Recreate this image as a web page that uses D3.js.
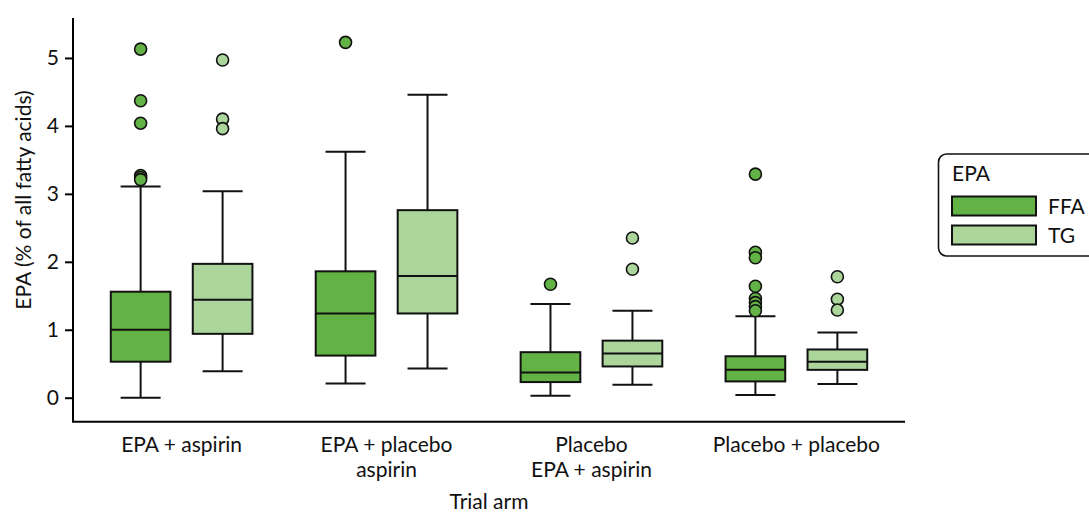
<!DOCTYPE html>
<html><head><meta charset="utf-8">
<script src="https://cdn.jsdelivr.net/npm/d3@7"></script>
<style>body{margin:0;background:#fff}svg{display:block;font-family:Lato,"Open Sans",sans-serif}</style>
</head><body><svg id="c" width="1089" height="513"></svg>
<script>
const categories = ["EPA + aspirin", "EPA + placebo aspirin", "Placebo EPA + aspirin", "Placebo + placebo"];
const categoryLines = [["EPA + aspirin"], ["EPA + placebo", "aspirin"], ["Placebo", "EPA + aspirin"], ["Placebo + placebo"]];
const seriesNames = ["FFA", "TG"];
const seriesColors = ["#63b246", "#acd59c"];
// [lowerWhisker, Q1, median, Q3, upperWhisker]
const ffaStats = [
  [0.00, 0.53, 1.00, 1.56, 3.11],
  [0.21, 0.62, 1.24, 1.86, 3.62],
  [0.03, 0.23, 0.37, 0.67, 1.38],
  [0.04, 0.24, 0.41, 0.61, 1.20]
];
const tgStats = [
  [0.39, 0.94, 1.44, 1.97, 3.04],
  [0.43, 1.24, 1.79, 2.76, 4.46],
  [0.19, 0.46, 0.65, 0.84, 1.28],
  [0.20, 0.41, 0.53, 0.71, 0.96]
];
const ffaOutliers = [
  [5.13, 4.37, 4.04, 3.27, 3.24, 3.21],
  [5.23],
  [1.67],
  [3.29, 2.14, 2.06, 1.64, 1.46, 1.40, 1.34, 1.28]
];
const tgOutliers = [
  [4.97, 4.10, 3.96],
  [],
  [2.35, 1.89],
  [1.78, 1.45, 1.29]
];
const yTicks = [0, 1, 2, 3, 4, 5];
const yDomain = [-0.353, 5.588];
const yTitle = "EPA (% of all fatty acids)";
const xTitle = "Trial arm";
const legendTitle = "EPA";

(function () {
const svg = d3.select("#c");
const mLeft = 73, mRight = 905, mTop = 18, mBottom = 421.7;
const fs = 21;
const x = d3.scaleBand().domain(categories).range([mLeft, mRight]).paddingInner(0).paddingOuter(0.03);
const xs = d3.scaleBand().domain(seriesNames).range([0, x.bandwidth()]).paddingInner(0.272).paddingOuter(0.386);
const y = d3.scaleLinear().domain(yDomain).range([mBottom, mTop]);
const color = d3.scaleOrdinal().domain(seriesNames).range(seriesColors);

// axes
const yAxis = svg.append("g").attr("transform", `translate(${mLeft},0)`)
  .call(d3.axisLeft(y).tickValues(yTicks).tickSize(8).tickPadding(6).tickFormat(d3.format("d")));
yAxis.select(".domain").attr("d", `M0,${mTop}V${mBottom}`).attr("stroke-width", 2);
yAxis.selectAll(".tick line").attr("stroke-width", 2);
yAxis.selectAll("text").attr("font-size", fs).attr("fill", "#111").attr("font-family", null);

const xAxis = svg.append("g").attr("transform", `translate(0,${mBottom})`)
  .call(d3.axisBottom(x).tickSize(0).tickFormat(""));
xAxis.attr("font-family", null);
xAxis.select(".domain").attr("d", `M${mLeft-1},0H${mRight}`).attr("stroke-width", 2);
xAxis.selectAll(".tick").each(function(d, i) {
  const t = d3.select(this).append("text").attr("fill", "#111").attr("font-size", fs).attr("text-anchor", "middle");
  categoryLines[i].forEach((ln, j) => t.append("tspan").attr("x", 0).attr("y", 30 + j * 25).text(ln));
});
yAxis.attr("font-family", null);

svg.append("text").attr("transform", `translate(31,200) rotate(-90)`)
  .attr("text-anchor", "middle").attr("font-size", fs).attr("fill", "#111").text(yTitle);
svg.append("text").attr("x", (mLeft + mRight) / 2).attr("y", 509).attr("text-anchor", "middle")
  .attr("font-size", fs).attr("fill", "#111").text(xTitle);

// boxes
const allSeries = [
  {name: "FFA", stats: ffaStats, outliers: ffaOutliers},
  {name: "TG", stats: tgStats, outliers: tgOutliers}
];
const bw = xs.bandwidth();
const capHalf = 20;
allSeries.forEach(s => {
  categories.forEach((c, i) => {
    const [lo, q1, med, q3, hi] = s.stats[i];
    const cx = x(c) + xs(s.name) + bw / 2;
    const g = svg.append("g").attr("stroke", "#111").attr("stroke-width", 2);
    g.append("line").attr("x1", cx).attr("x2", cx).attr("y1", y(hi)).attr("y2", y(q3));
    g.append("line").attr("x1", cx).attr("x2", cx).attr("y1", y(q1)).attr("y2", y(lo));
    g.append("line").attr("x1", cx - capHalf).attr("x2", cx + capHalf).attr("y1", y(hi)).attr("y2", y(hi));
    g.append("line").attr("x1", cx - capHalf).attr("x2", cx + capHalf).attr("y1", y(lo)).attr("y2", y(lo));
    g.append("rect").attr("x", cx - bw / 2).attr("width", bw).attr("y", y(q3)).attr("height", y(q1) - y(q3))
      .attr("fill", color(s.name));
    g.append("line").attr("x1", cx - bw / 2).attr("x2", cx + bw / 2).attr("y1", y(med)).attr("y2", y(med));
    g.selectAll("circle").data(s.outliers[i]).join("circle")
      .attr("cx", cx).attr("cy", d => y(d)).attr("r", 6).attr("fill", color(s.name)).attr("stroke-width", 1.6);
  });
});

// legend
const lg = svg.append("g");
lg.append("rect").attr("x", 938.5).attr("y", 154).attr("width", 170).attr("height", 102).attr("rx", 8)
  .attr("fill", "#fff").attr("stroke", "#111").attr("stroke-width", 1.6);
lg.append("text").attr("x", 952).attr("y", 181).attr("font-size", fs).attr("fill", "#111").text(legendTitle);
seriesNames.forEach((n, i) => {
  lg.append("rect").attr("x", 952).attr("y", 196.5 + i * 29).attr("width", 84).attr("height", 19)
    .attr("fill", color(n)).attr("stroke", "#111").attr("stroke-width", 2);
  lg.append("text").attr("x", 1048).attr("y", 214 + i * 29).attr("font-size", fs).attr("fill", "#111").text(n);
});
})();
</script></body></html>
